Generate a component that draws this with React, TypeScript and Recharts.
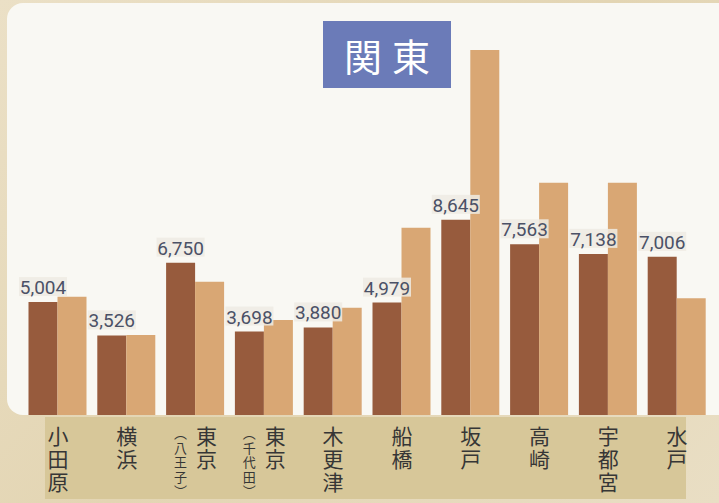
import React from "react";
import { BarChart, Bar, XAxis, YAxis } from "recharts";

// 関東エリアの地点別の値（左が濃い茶、右が薄い茶）
const categories = [
  "小田原",
  "横浜",
  "東京(八王子)",
  "東京(千代田)",
  "木更津",
  "船橋",
  "坂戸",
  "高崎",
  "宇都宮",
  "水戸",
];
const darkValues = [5004, 3526, 6750, 3698, 3880, 4979, 8645, 7563, 7138, 7006];
const lightValues = [5240, 3540, 5900, 4210, 4750, 8300, 16170, 10290, 10290, 5170];

const data = categories.map((name, i) => ({
  name,
  dark: darkValues[i],
  light: lightValues[i],
}));

const DARK = "#975b3d";
const LIGHT = "#d9a774";

// 縦書きのラベル（括弧書きは左に小さく）
function VerticalTick(props: any) {
  const { x, y, payload } = props;
  const label: string = payload.value;
  const m = label.match(/^(.+?)\((.+)\)$/);
  const main = m ? m[1] : label;
  const sub = m ? m[2] : "";
  const mainX = sub ? x + 11 : x;
  const top = y + 11;

  return (
    <g>
      <text
        x={mainX}
        y={top}
        fontSize={21}
        letterSpacing={2}
        fill="#363636"
        fontFamily="'Noto Sans CJK JP', sans-serif"
        style={{ writingMode: "vertical-rl" }}
      >
        {main}
      </text>
      {sub && (
        <text
          x={x - 15}
          y={top + 1}
          fontSize={13}
          letterSpacing={1.5}
          fill="#363636"
          fontFamily="'Noto Sans CJK JP', sans-serif"
          style={{ writingMode: "vertical-rl" }}
        >
          {"（" + sub + "）"}
        </text>
      )}
    </g>
  );
}

function ValueLabel(props: any) {
  const { x, y, width, value } = props;
  const cx = x + width / 2;
  const text = Number(value).toLocaleString("en-US");
  return (
    <g>
      <rect
        x={cx - 24}
        y={y - 25}
        width={48}
        height={19}
        fill="#eeebe3"
        fillOpacity={0.85}
      />
      <text
        x={cx}
        y={y - 8}
        textAnchor="middle"
        fontSize={19}
        fill="#4b5166"
        fontFamily="Roboto, sans-serif"
      >
        {text}
      </text>
    </g>
  );
}

export default function App() {
  return (
    <div
      style={{
        position: "absolute",
        left: 0,
        top: 0,
        width: 719,
        height: 503,
        overflow: "hidden",
        background: "linear-gradient(135deg, #ebe0c6 0%, #e3d5b3 50%, #e9dec4 100%)",
      }}
    >
      {/* 白いパネル */}
      <div
        style={{
          position: "absolute",
          left: 7,
          top: 3,
          width: 730,
          height: 412,
          background: "#f9f8f3",
          borderRadius: 16,
        }}
      />
      {/* ラベルの帯 */}
      <div
        style={{
          position: "absolute",
          left: 45,
          top: 417,
          width: 641,
          height: 82,
          background: "#d7c799",
        }}
      />
      {/* タイトル */}
      <div
        style={{
          position: "absolute",
          left: 323,
          top: 21,
          width: 128,
          height: 67,
          background: "#6b7bb8",
          color: "#ffffff",
          fontFamily: "'Noto Sans CJK JP', sans-serif",
          fontSize: 38,
          letterSpacing: 10,
          paddingLeft: 10,
          boxSizing: "border-box",
          display: "flex",
          alignItems: "center",
          justifyContent: "center",
        }}
      >
        関東
      </div>
      <div style={{ position: "absolute", left: 0, top: 0 }}>
        <BarChart
          width={719}
          height={503}
          data={data}
          margin={{ top: 20, right: 7.5, bottom: 0, left: 23.5 }}
          barSize={29}
          barGap={0}
        >
          <YAxis hide domain={[0, 17500]} />
          <XAxis
            dataKey="name"
            height={88}
            axisLine={false}
            tickLine={false}
            tickSize={0}
            tickMargin={0}
            interval={0}
            tick={<VerticalTick />}
          />
          <Bar
            dataKey="dark"
            fill={DARK}
            isAnimationActive={false}
            label={<ValueLabel />}
          />
          <Bar dataKey="light" fill={LIGHT} isAnimationActive={false} />
        </BarChart>
      </div>
    </div>
  );
}
